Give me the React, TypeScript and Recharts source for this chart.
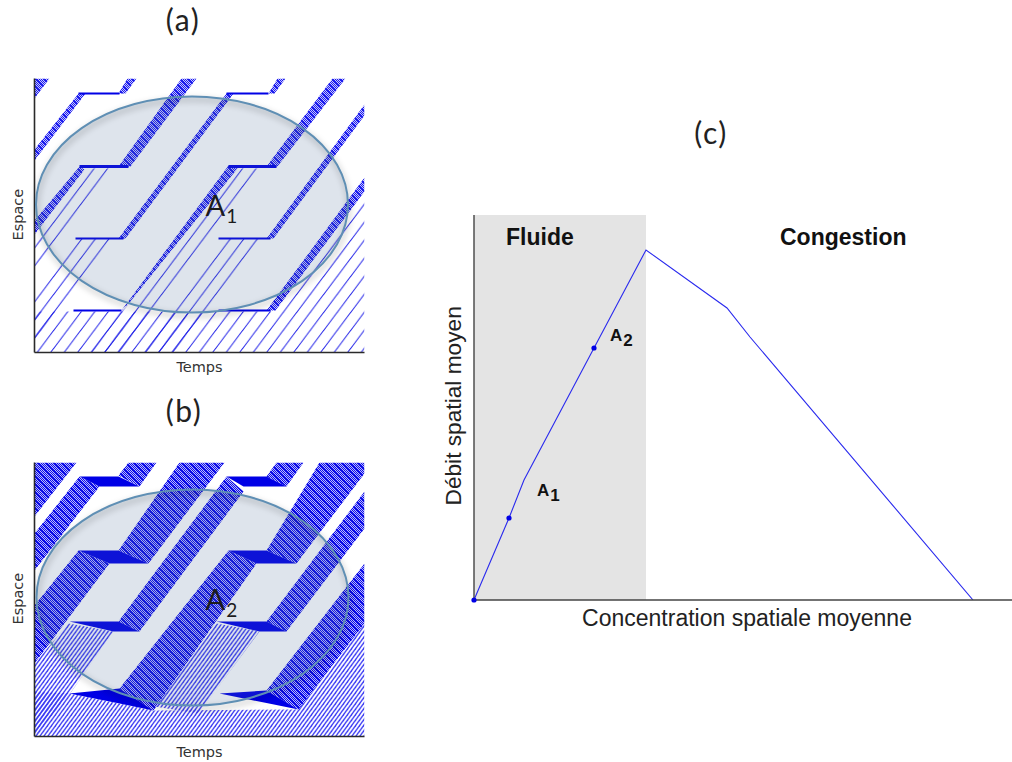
import React from 'react';
import {
  Area,
  Line,
  LineChart,
  XAxis,
  YAxis,
  ReferenceArea,
  ReferenceDot,
  ComposedChart
} from 'recharts';

type Pt = [number, number];

// (a) trajectoires, flux faible : x = temps, y = espace
const hairA: Pt[][] = [
  [[46, 184], [81, 184], [0, 76], [0, 122]],
  [[42, 114], [81, 114], [0, 7], [0, 59]],
  [[0, 41], [87, 41], [56, 0], [0, 0]],
  [[56, 0], [87, 41], [92, 46], [199, 184], [225, 184], [87, 0]],
  [[185, 114], [229, 114], [143, 0], [100, 0]],
  [[56, 0], [87, 41], [184, 41], [153, 0]],
  [[184, 41], [239, 41], [330, 161], [330, 0], [153, 0]]
];
const denseA: Pt[][] = [
  [[0, 274], [15, 274], [0, 254]],
  [[44, 259], [51, 259], [0, 192], [0, 203]],
  [[84, 259], [91, 259], [102, 274], [93, 274]],
  [[84, 186], [96, 186], [162, 274], [147, 274]],
  [[45, 186], [50, 183], [0, 118], [0, 132]],
  [[84, 114], [91, 114], [199, 259], [192, 259]],
  [[234, 259], [240, 259], [251, 274], [243, 274]],
  [[194, 187], [203, 184], [95, 50], [87, 42]],
  [[232, 186], [243, 186], [311, 274], [298, 274]],
  [[232, 114], [239, 114], [330, 237], [330, 248]],
  [[232, 42], [241, 42], [330, 161], [330, 175]]
];
const stopsA: Pt[][] = [
  [[44, 259], [85, 259]],
  [[192, 259], [234, 259]],
  [[41, 114], [89, 114]],
  [[184, 114], [236, 114]],
  [[39, 42], [87, 42]],
  [[184, 42], [236, 42]]
];
const thickStopsA: Pt[][] = [
  [[45, 186], [94, 186]],
  [[194, 186], [242, 186]]
];

// (b) trajectoires, flux fort
const hatchB: Pt[][] = [
  [[34, 113], [79, 105], [37, 45], [0, 0], [0, 73]],
  [[182, 113], [225, 105], [164, 23], [120, 30]],
  [[0, 45], [35, 43], [119, 26], [264, 27], [330, 113], [330, 0], [0, 0]]
];
const denseB: Pt[][] = [
  [[0, 274], [42, 274], [0, 220]],
  [[45, 260], [65, 250], [0, 166], [0, 203]],
  [[84, 261], [94, 274], [122, 274], [105, 250]],
  [[84, 186], [114, 173], [190, 274], [145, 274]],
  [[44, 186], [75, 173], [0, 73], [0, 131]],
  [[84, 115], [105, 105], [209, 245], [192, 260]],
  [[232, 260], [252, 250], [269, 274], [242, 274]],
  [[194, 186], [222, 173], [119, 26], [85, 48]],
  [[232, 186], [262, 173], [330, 263], [330, 274], [285, 274]],
  [[232, 115], [252, 105], [330, 208], [330, 245]],
  [[232, 46], [264, 27], [330, 113], [330, 173]]
];
const queuesB: Pt[][] = [
  [[45, 260], [84, 260], [105, 250], [65, 250]],
  [[192, 260], [232, 260], [252, 250], [209, 250]],
  [[44, 186], [84, 186], [114, 173], [75, 173]],
  [[194, 186], [232, 186], [262, 173], [222, 173]],
  [[35, 115], [84, 115], [105, 105], [79, 105]],
  [[182, 115], [232, 115], [252, 105], [225, 105]],
  [[35, 43], [85, 48], [119, 26]],
  [[185, 43], [232, 46], [264, 27]]
];

// (c) diagramme fondamental
const concentration = [0, 35, 50, 120, 172, 253, 276, 499];
const debit = [0, 82, 120, 252, 350, 292, 263, 0];
const pointA1: Pt = [35, 82];
const pointA2: Pt = [120, 252];
const origin: Pt = [0, 0];
const fluideEnd = 172;

const diagramRows = concentration.map((x, i) => ({ x, y: debit[i] }));

const BLUE = '#0000e6';

// table d'une aire [bas, haut] à partir des sommets d'un polygone
const polygonRows = (poly: Pt[]) => {
  const xs = Array.from(new Set(poly.map(p => p[0]))).sort((a, b) => a - b);
  return xs.map(x => {
    const ys: number[] = [];
    poly.forEach((p, i) => {
      const q = poly[(i + 1) % poly.length];
      const lo = Math.min(p[0], q[0]);
      const hi = Math.max(p[0], q[0]);
      if (x < lo || x > hi) return;
      if (p[0] === q[0]) ys.push(p[1], q[1]);
      else ys.push(p[1] + ((q[1] - p[1]) * (x - p[0])) / (q[0] - p[0]));
    });
    return { x, band: [Math.min(...ys), Math.max(...ys)] };
  });
};

const Stripes = ({ id, w, h, stroke, sw }: { id: string; w: number; h: number; stroke: string; sw: number }) => (
  <pattern id={id} patternUnits="userSpaceOnUse" width={w} height={h}>
    <line x1={-w} y1={2 * h} x2={2 * w} y2={-h} stroke={stroke} strokeWidth={sw} />
    <line x1={0} y1={2 * h} x2={2 * w} y2={0} stroke={stroke} strokeWidth={sw} />
    <line x1={-w} y1={h} x2={w} y2={-h} stroke={stroke} strokeWidth={sw} />
  </pattern>
);

// trame des pelotons denses : damier d'un pixel et vagues plus foncées
const cells = [0, 1, 2, 3, 4, 5, 6, 7];
const Checker = ({ id, light, dark }: { id: string; light: string; dark: string }) => (
  <pattern id={id} patternUnits="userSpaceOnUse" width={8} height={8}>
    <rect width={8} height={8} fill={light} />
    {cells.map(i =>
      cells.map(j =>
        (i + j) % 2 === 0 || (i - j + 8) % 8 === 1 ? (
          <rect key={`${i}-${j}`} x={i} y={j} width={1} height={1} fill={dark} />
        ) : null
      )
    )}
  </pattern>
);

const Ellipse = (props: any) => (
  <g>
    <ellipse cx={props.cx} cy={props.cy} rx={156} ry={108} fill="rgba(74,104,150,0.18)" stroke="none" />
    <ellipse
      cx={props.cx}
      cy={props.cy}
      rx={156}
      ry={108}
      fill="none"
      stroke="#5f8fb4"
      strokeWidth={2}
      style={{ filter: 'drop-shadow(1px 3px 3px rgba(0,0,0,0.35))' }}
    />
  </g>
);

// lettre avec indice
const SubLabel = ({ viewBox, base, sub, size, subSize, subDy, weight, family, color }: any) => (
  <text x={viewBox.x} y={viewBox.y} fontFamily={family} fontWeight={weight} fontSize={size} fill={color}>
    {base}
    {sub && <tspan dx={1} dy={subDy} fontSize={subSize}>{sub}</tspan>}
  </text>
);

const areaList = (polys: Pt[][], fill: string, name: string) =>
  polys.map((poly, i) => (
    <Area
      key={`${name}-${i}`}
      data={polygonRows(poly)}
      dataKey="band"
      stroke="none"
      fill={fill}
      fillOpacity={1}
      dot={false}
      activeDot={false}
      type="linear"
      isAnimationActive={false}
    />
  ));

const stopList = (stops: Pt[][], width: number, name: string) =>
  stops.map((s, i) => (
    <Line
      key={`${name}-${i}`}
      data={s.map(p => ({ x: p[0], band: p[1] }))}
      dataKey="band"
      stroke={BLUE}
      strokeWidth={width}
      dot={false}
      activeDot={false}
      isAnimationActive={false}
    />
  ));

const axisFont = { fontFamily: 'DejaVu Sans', fontSize: 14.5, fill: '#333' };

const Panel = ({ id, top, height, marginTop, children, ellipse, sub, labelGap }: any) => (
  <div style={{ position: 'absolute', left: 0, top }}>
    <ComposedChart width={380} height={height} margin={{ top: marginTop, right: 15.5, bottom: 0, left: 0 }}>
      <defs>
        <Stripes id={`hair-${id}`} w={13.5} h={18} stroke="#2222e8" sw={1} />
        <Checker id={`denseA-${id}`} light="#c4c4ff" dark="#1c1cee" />
        <Checker id={`denseB-${id}`} light="#b8b8ff" dark="#0c0ce8" />
        <Stripes id={`hatch-${id}`} w={4} h={5.5} stroke="#3a3af4" sw={1.4} />
      </defs>
      <XAxis
        type="number"
        dataKey="x"
        domain={[0, 330]}
        allowDataOverflow
        tick={false}
        tickLine={false}
        height={height - marginTop - 274}
        axisLine={{ stroke: '#2a2a2a', strokeWidth: 1.6 }}
        label={{ value: 'Temps', position: 'insideTop', offset: labelGap, ...axisFont }}
      />
      <YAxis
        type="number"
        domain={[0, 274]}
        allowDataOverflow
        tick={false}
        tickLine={false}
        width={34.5}
        axisLine={{ stroke: '#2a2a2a', strokeWidth: 1.6 }}
        label={{ value: 'Espace', angle: -90, position: 'insideLeft', offset: 18, dy: 25, ...axisFont }}
      />
      {children}
      <ReferenceDot x={ellipse[0]} y={ellipse[1]} shape={Ellipse} isFront />
      <ReferenceDot
        x={ellipse[2]}
        y={ellipse[3]}
        r={0}
        isFront
        label={<SubLabel base="A" sub={sub} size={29} subSize={19} subDy={7} weight={400} family="Lato" color="#1c1c1c" />}
      />
    </ComposedChart>
  </div>
);

const title = (text: string, left: number, top: number) => (
  <div
    style={{
      position: 'absolute',
      left,
      top,
      width: 80,
      textAlign: 'center',
      fontFamily: 'Lato',
      fontSize: 30,
      letterSpacing: 1.5,
      lineHeight: '30px',
      color: '#222'
    }}
  >
    {text}
  </div>
);

const dotStyle = { r: 2.6, fill: BLUE, stroke: BLUE, strokeWidth: 0 };

export default function App() {
  return (
    <div style={{ position: 'absolute', left: 0, top: 0, width: 1012, height: 762, background: '#fff', overflow: 'hidden' }}>
      {title('(a)', 143, 4)}
      {title('(b)', 144, 395)}
      {title('(c)', 671, 117)}

      <Panel id="a" top={60} height={330} marginTop={18.5} ellipse={[157.5, 148, 171, 137]} sub="1" labelGap={9}>
        {areaList(hairA, 'url(#hair-a)', 'hair')}
        {areaList(denseA, 'url(#denseA-a)', 'dense')}
        {stopList(stopsA, 1.9, 'stop')}
        {stopList(thickStopsA, 3.2, 'thick')}
      </Panel>

      <Panel id="b" top={450} height={312} marginTop={12.5} ellipse={[158, 139, 171, 127]} sub="2" labelGap={10}>
        {areaList(hatchB, 'url(#hatch-b)', 'hatch')}
        {areaList(denseB, 'url(#denseB-b)', 'dense')}
        {areaList(queuesB, BLUE, 'queue')}
      </Panel>

      <div style={{ position: 'absolute', left: 440, top: 200 }}>
        <LineChart width={572} height={440} data={diagramRows} margin={{ top: 15, right: 0, bottom: 0, left: 0 }}>
          <XAxis
            type="number"
            dataKey="x"
            domain={[0, 538]}
            allowDataOverflow
            tick={false}
            tickLine={false}
            height={40}
            axisLine={{ stroke: '#444', strokeWidth: 1.4 }}
            label={{ value: 'Concentration spatiale moyenne', position: 'insideTop', offset: 10, dx: 4, fontFamily: 'Liberation Sans', fontSize: 23, fill: '#222' }}
          />
          <YAxis
            type="number"
            domain={[0, 385]}
            allowDataOverflow
            tick={false}
            tickLine={false}
            width={34}
            axisLine={{ stroke: '#444', strokeWidth: 1.4 }}
            label={{ value: 'Débit spatial moyen', angle: -90, position: 'insideLeft', offset: 13, dy: 98, fontFamily: 'Liberation Sans', fontSize: 22.7, fill: '#222' }}
          />
          <ReferenceArea x1={0} x2={fluideEnd} y1={0} y2={385} fill="#e4e4e4" fillOpacity={1} stroke="none" />
          <Line dataKey="y" type="linear" stroke="#2a2aee" strokeWidth={1.1} dot={false} activeDot={false} isAnimationActive={false} />
          <ReferenceDot x={origin[0]} y={origin[1]} {...dotStyle} ifOverflow="visible" />
          <ReferenceDot x={pointA1[0]} y={pointA1[1]} {...dotStyle} />
          <ReferenceDot x={pointA2[0]} y={pointA2[1]} {...dotStyle} />
          <ReferenceDot
            x={63}
            y={104}
            r={0}
            label={<SubLabel base="A" sub="1" size={17} subSize={17} subDy={5} weight={700} family="Liberation Sans" color="#111" />}
          />
          <ReferenceDot
            x={136}
            y={259}
            r={0}
            label={<SubLabel base="A" sub="2" size={17} subSize={17} subDy={5} weight={700} family="Liberation Sans" color="#111" />}
          />
          <ReferenceDot
            x={32}
            y={355}
            r={0}
            label={<SubLabel base="Fluide" size={23} weight={700} family="Liberation Sans" color="#111" />}
          />
          <ReferenceDot
            x={306}
            y={355}
            r={0}
            label={<SubLabel base="Congestion" size={23} weight={700} family="Liberation Sans" color="#111" />}
          />
        </LineChart>
      </div>
    </div>
  );
}
